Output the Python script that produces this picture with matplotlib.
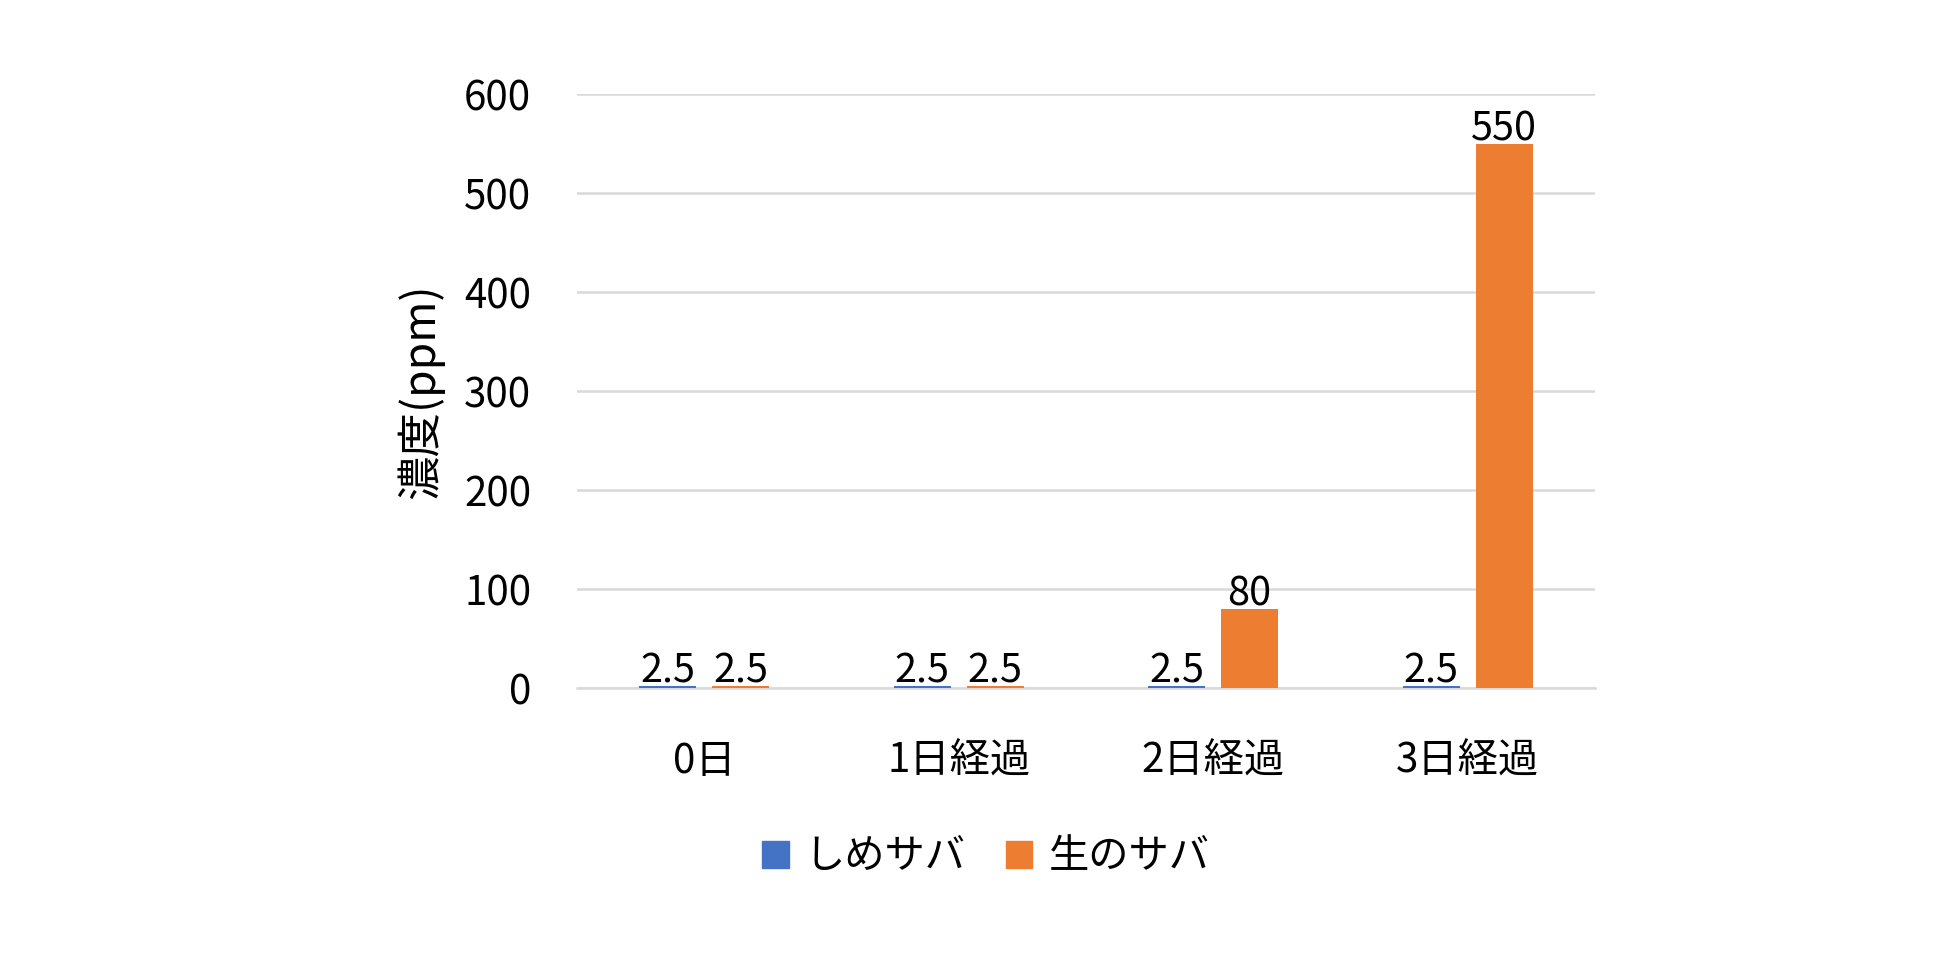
import numpy as np
import matplotlib
matplotlib.use("Agg")
import matplotlib.pyplot as plt
from matplotlib.patches import Patch

plt.rcParams['font.family'] = ['Noto Sans CJK JP', 'DejaVu Sans']

# data
categories = ['0日', '1日経過', '2日経過', '3日経過']
series_names = ['しめサバ', '生のサバ']
shime_saba = [2.5, 2.5, 2.5, 2.5]
nama_saba = [2.5, 2.5, 80, 550]
y_ticks = [0, 100, 200, 300, 400, 500, 600]

colors = ['#4472C4', '#ED7D31']

fig = plt.figure(figsize=(19.6, 9.65), dpi=100)
ax = fig.add_axes([0.2944, 0.2870, 0.5194, 0.6155])

x = np.arange(len(categories))
width = 0.224
offset = 0.143

for vals, off, col in zip([shime_saba, nama_saba], [-offset, offset], colors):
    bars = ax.bar(x + off, vals, width=width, color=col, zorder=3)
    for b, v in zip(bars, vals):
        ax.annotate('%g' % v, (b.get_x() + b.get_width() / 2, v),
                    xytext=(0, 2.5), textcoords='offset points',
                    ha='center', va='baseline', fontsize=28.5,
                    color='black', zorder=4)

ax.set_xlim(-0.5, len(categories) - 0.5)
ax.set_ylim(0, 600)
ax.set_yticks(y_ticks)
ax.set_yticklabels([str(t) for t in y_ticks], fontsize=29)
ax.set_xticks(x)
ax.set_xticklabels(categories, fontsize=29)
ax.tick_params(axis='y', length=0, pad=33)
ax.tick_params(axis='x', length=0, pad=38)

ax.grid(axis='y', color='#D9D9D9', linewidth=1.8, zorder=0)
ax.set_axisbelow(True)
for s in ['top', 'right', 'left']:
    ax.spines[s].set_visible(False)
ax.spines['bottom'].set_color('#D9D9D9')
ax.spines['bottom'].set_linewidth(1.8)

ax.set_ylabel('濃度(ppm)', fontsize=32, labelpad=14)

handles = [Patch(color=c, label=n) for c, n in zip(colors, series_names)]
fig.legend(handles=handles, loc='center', bbox_to_anchor=(0.503, 1 - 857 / 965),
           ncol=2, frameon=False, fontsize=29, handlelength=0.65, handleheight=0.65,
           handletextpad=0.4, columnspacing=1.0)

fig.savefig('out.png', dpi=100)
